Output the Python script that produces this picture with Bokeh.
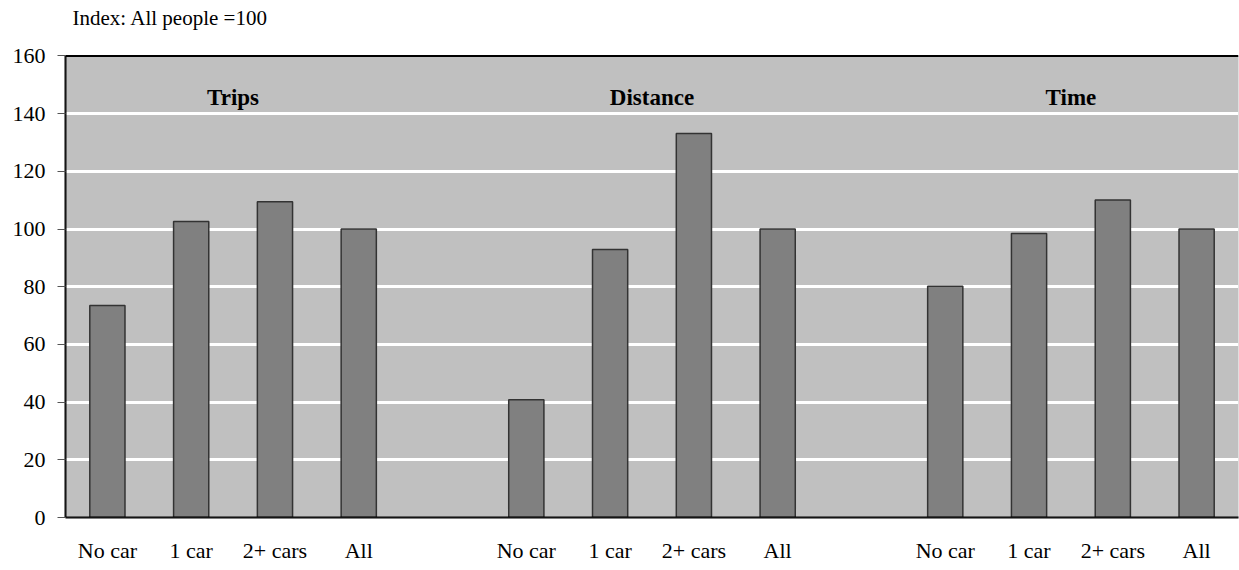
from bokeh.plotting import figure
from bokeh.models import ColumnDataSource, FixedTicker, Range1d, Span, BoxAnnotation
from bokeh.core.properties import value
from bokeh.embed import file_html
from bokeh.resources import INLINE

# Index values (All people = 100) by household car availability
groups = ["Trips", "Distance", "Time"]
categories = ["No car", "1 car", "2+ cars", "All"]
trips = [73.5, 102.6, 109.5, 100]
distance = [40.8, 92.9, 133.1, 100]
time_ = [80.2, 98.5, 110.1, 100]
y_ticks = [0, 20, 40, 60, 80, 100, 120, 140, 160]
note = "Index: All people =100"

series = [trips, distance, time_]
slot_gap = len(categories) + 1  # one empty slot between groups

xs, tops, labels = [], [], {}
for g, vals in enumerate(series):
    for c, v in enumerate(vals):
        x = g * slot_gap + c
        xs.append(x)
        tops.append(v)
        labels[x] = categories[c]

src = ColumnDataSource(dict(x=xs, top=tops))

n_slots = len(groups) * slot_gap - 1
y_max = y_ticks[-1]
FONT = "Liberation Serif"

# The frame reaches a little above the top tick so the note can sit in it;
# only the band from 0 to the top tick is shaded.
p = figure(width=1239, height=570, output_backend="svg", toolbar_location=None,
           x_range=Range1d(-0.5, n_slots - 0.5), y_range=Range1d(0, 177.5),
           min_border_left=65, min_border_right=1, min_border_top=5, min_border_bottom=53)

p.background_fill_color = "#ffffff"
p.border_fill_color = "#ffffff"
p.outline_line_color = None

p.add_layout(BoxAnnotation(bottom=0, top=y_max, fill_color="#c0c0c0", fill_alpha=1.0,
                           line_color=None, level="image"))

p.xgrid.grid_line_color = None
p.ygrid.grid_line_color = "#ffffff"
p.ygrid.grid_line_width = 3
p.ygrid.ticker = FixedTicker(ticks=y_ticks)

p.vbar(x="x", top="top", bottom=0, width=0.42, source=src,
       fill_color="#808080", line_color="#333333", line_width=1.5)

# Section headings
p.text(x=[g * slot_gap + 1.5 for g in range(len(groups))], y=[145.6] * len(groups),
       text=groups, text_font=value(FONT), text_font_size="23px", text_font_style="bold",
       text_align="center", text_baseline="middle", text_color="#000000")

# Note above the plot area
p.text(x=[-0.5], y=[173.0], text=[note], x_offset=7, text_font=value(FONT),
       text_font_size="21px", text_align="left", text_baseline="middle", text_color="#000000")

# Plot-area edges
p.add_layout(BoxAnnotation(left=-0.5, right=n_slots - 0.5, bottom=0, top=y_max,
                           fill_alpha=0, line_color="#888888", line_width=1))
p.add_layout(Span(location=y_max, dimension="width", line_color="#000000", line_width=2))

ya = p.yaxis[0]
ya.ticker = FixedTicker(ticks=y_ticks)
ya.bounds = (0, y_max)
ya.axis_line_color = "#000000"
ya.axis_line_width = 2
ya.major_tick_line_color = "#555555"
ya.major_tick_out = 8
ya.major_tick_in = 0
ya.minor_tick_line_color = None
ya.major_label_text_font = FONT
ya.major_label_text_font_size = "22px"
ya.major_label_text_color = "#000000"
ya.major_label_standoff = 12

xa = p.xaxis[0]
xa.ticker = FixedTicker(ticks=xs)
xa.major_label_overrides = {k: v for k, v in labels.items()}
xa.axis_line_color = "#000000"
xa.axis_line_width = 2
xa.major_tick_line_color = None
xa.minor_tick_line_color = None
xa.major_label_text_font = FONT
xa.major_label_text_font_size = "22px"
xa.major_label_text_color = "#000000"
xa.major_label_standoff = 14

open("out.html", "w").write(file_html(p, INLINE))
